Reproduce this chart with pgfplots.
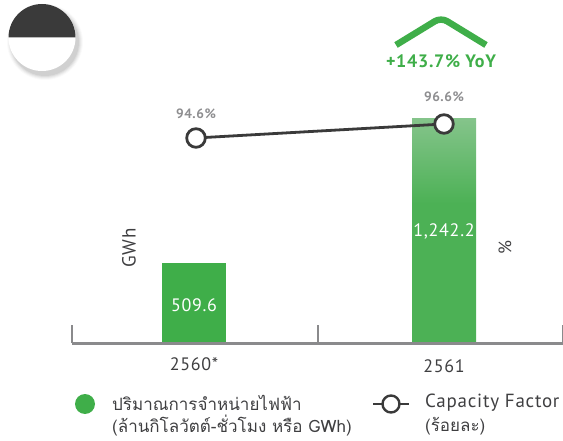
\documentclass[border=0pt]{standalone}
\usepackage{pgfplots}
\pgfplotsset{compat=1.18}
\usepackage{fontspec}
\setmainfont[LetterSpace=4]{PT Sans}
\newfontfamily\thaifont[Script=Thai]{Loma}
\definecolor{barG}{HTML}{3FAE49}
\definecolor{barT}{HTML}{85C48B}
\definecolor{barB}{HTML}{4CB155}
\definecolor{dark}{HTML}{3A3A3A}
\definecolor{axisg}{HTML}{8A8A8C}
\definecolor{lblg}{HTML}{8E8E90}
\definecolor{txt}{HTML}{3F3F41}
\pgfdeclareverticalshading{barshade}{100bp}{color(0bp)=(barB); color(56bp)=(barB); color(75bp)=(barT); color(100bp)=(barT)}
\pgfplotsset{base/.style={width=563pt,height=440pt,scale only axis,hide axis,clip=false,
  xmin=-0.776,xmax=1.476}}
\begin{document}
\begin{tikzpicture}[x=1pt,y=1pt]
\begin{axis}[base,at={(0pt,0pt)},anchor=south west,ymin=-535.5,ymax=1893.7,
  ybar,bar width=64pt,bar shift=0pt]
\addplot[draw=none,fill=barG] coordinates {(0,441.7)};
\addplot[draw=none,shading=barshade] coordinates {(1,1242.2)};
\end{axis}
\begin{axis}[base,at={(0pt,0pt)},anchor=south west,ymin=-535.5,ymax=1893.7]
\addplot[axisg,line width=3pt,forget plot] coordinates {(-0.488,0) (1.476,0)};
\addplot[axisg,line width=2.4pt,forget plot] coordinates {(-0.488,0) (-0.488,100)};
\addplot[axisg,line width=2.4pt,forget plot] coordinates {(0.496,0) (0.496,100)};
\addplot[axisg,line width=2.4pt,forget plot] coordinates {(1.476,0) (1.476,100)};
\node[text=white,font=\fontsize{18}{20}\selectfont] at (axis cs:0,210) {509.6};
\node[text=white,font=\fontsize{18}{20}\selectfont] at (axis cs:1,615) {1,242.2};
\node[text=txt,font=\fontsize{18}{20}\selectfont] at (axis cs:0,-115) {2560*};
\node[text=txt,font=\fontsize{18}{20}\selectfont] at (axis cs:1,-130) {2561};
\end{axis}
\begin{axis}[base,at={(0pt,0pt)},anchor=south west,ymin=51.46,ymax=114.31]
\addplot[dark,line width=2.8pt,mark=*,mark size=9.3pt,
  mark options={fill=white,draw=dark,line width=2.8pt,solid}] coordinates {(0.008,94.6) (1,96.6)};
\node[text=lblg,font=\bfseries\fontsize{13.5}{15}\selectfont] at (axis cs:0.008,98.0) {94.6\%};
\node[text=lblg,font=\bfseries\fontsize{13.5}{15}\selectfont] at (axis cs:1,100.46) {96.6\%};
\end{axis}
\begin{scope}[yshift=440pt,y=-1pt]
  % badge with soft shadow
  \foreach \r/\o in {38/0.02,37/0.03,36/0.04,35/0.05,34/0.06}{
    \fill[black,opacity=\o] (45,42) circle (\r);}
  \fill[white] (42,37.5) circle (33.5);
  \fill[dark] (8.5,37.5) arc[start angle=180,end angle=360,radius=33.5] -- cycle;
  % chevron
  \draw[barG,line width=6.5pt,rounded corners=7pt] (396,45) -- (441,17.5) -- (486,45);
  \node[text=barG,font=\bfseries\fontsize{18}{20}\selectfont] at (441,61) {+143.7\% YoY};
  \node[text=txt,rotate=90,font=\fontsize{19}{20}\selectfont] at (129,248) {GWh};
  \node[text=txt,rotate=90,font=\fontsize{18}{20}\selectfont] at (505,248) {\%};
  % legend
  \fill[barG] (85,404) circle (10);
  \draw[dark,line width=2.4pt] (373,404) -- (409,404);
  \draw[dark,line width=2.4pt,fill=white] (391,404) circle (8.5);
  \node[text=txt,anchor=west,inner sep=0pt,font=\fontsize{17}{20}\selectfont\thaifont] at (112,403) {ปริมาณการจำหน่ายไฟฟ้า};
  \node[text=txt,anchor=west,inner sep=0pt,font=\fontsize{17}{20}\selectfont\thaifont] at (112,426) {(ล้านกิโลวัตต์-ชั่วโมง หรือ GWh)};
  \node[text=txt,anchor=west,inner sep=0pt,font=\fontsize{19}{20}\selectfont] at (425,403) {Capacity Factor};
  \node[text=txt,anchor=west,inner sep=0pt,font=\fontsize{17}{20}\selectfont\thaifont] at (425,426) {(ร้อยละ)};
\end{scope}
\pgfresetboundingbox
\useasboundingbox (0,0) rectangle (563pt,440pt);
\end{tikzpicture}
\end{document}
